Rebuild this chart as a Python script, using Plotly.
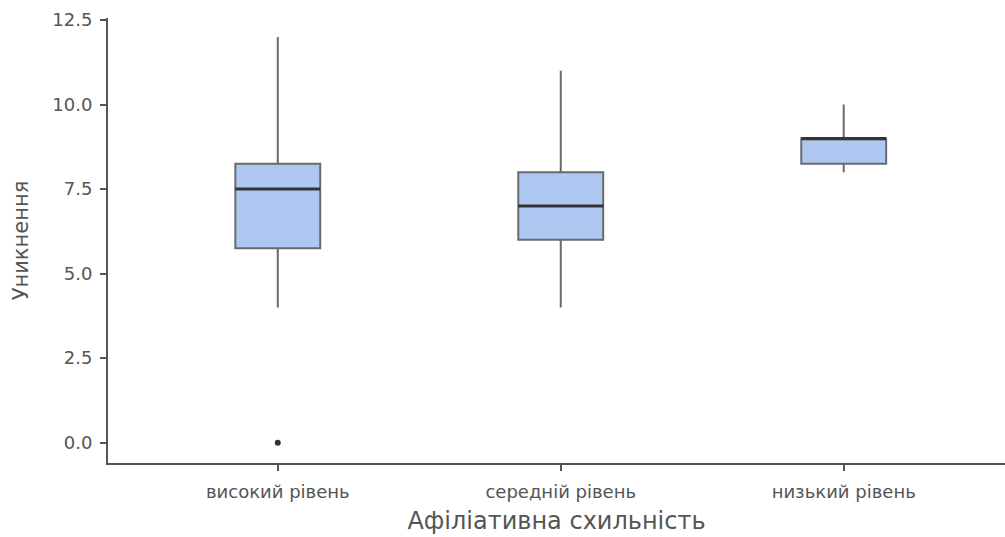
import plotly.graph_objects as go

# Group labels and summary statistics of the "Уникнення" score
groups = ["високий рівень", "середній рівень", "низький рівень"]
lower_whisker = [4.0, 4.0, 8.0]
q1 = [5.75, 6.0, 8.25]
median = [7.5, 7.0, 9.0]
q3 = [8.25, 8.0, 9.0]
upper_whisker = [12.0, 11.0, 10.0]
outlier_group = [0]
outlier_value = [0.0]

y_ticks = [0.0, 2.5, 5.0, 7.5, 10.0, 12.5]

positions = list(range(len(groups)))
box_width = 0.3

fig = go.Figure()

fig.add_trace(go.Box(
    x=positions,
    q1=q1,
    median=median,
    q3=q3,
    lowerfence=lower_whisker,
    upperfence=upper_whisker,
    width=box_width,
    whiskerwidth=0,
    fillcolor="#aec9f1",
    line=dict(color="#6a6a6a", width=2),
    boxpoints=False,
    hoverinfo="skip",
    showlegend=False,
))

# thicker median bars on top of each box
for i, m in zip(positions, median):
    fig.add_trace(go.Scatter(
        x=[i - box_width / 2, i + box_width / 2],
        y=[m, m],
        mode="lines",
        line=dict(color="#333333", width=3),
        hoverinfo="skip",
        showlegend=False,
    ))

# outlying observation
fig.add_trace(go.Scatter(
    x=[positions[g] for g in outlier_group],
    y=outlier_value,
    mode="markers",
    marker=dict(color="#333333", size=6),
    hoverinfo="skip",
    showlegend=False,
))

font_family = "DejaVu Sans, Liberation Sans, sans-serif"
text_color = "#555555"

fig.update_layout(
    width=1005,
    height=537,
    margin=dict(l=108, r=0, t=18, b=74),
    paper_bgcolor="white",
    plot_bgcolor="white",
    font=dict(family=font_family, color=text_color, size=18),
    xaxis=dict(
        range=[-0.6, 2.57],
        tickmode="array",
        tickvals=positions,
        ticktext=groups,
        showgrid=False,
        zeroline=False,
        showline=True,
        linecolor="#555555",
        linewidth=2,
        ticks="outside",
        ticklen=6,
        tickwidth=2,
        tickcolor="#555555",
        ticklabelstandoff=5,
        tickfont=dict(size=18, color=text_color),
        title=dict(text="Афіліативна схильність", font=dict(size=24, color=text_color), standoff=12),
    ),
    yaxis=dict(
        range=[-0.6, 12.56],
        tickmode="array",
        tickvals=y_ticks,
        ticktext=[f"{v:.1f}" for v in y_ticks],
        showgrid=False,
        zeroline=False,
        showline=True,
        linecolor="#555555",
        linewidth=2,
        ticks="outside",
        ticklen=6,
        tickwidth=2,
        tickcolor="#555555",
        ticklabelstandoff=4,
        tickfont=dict(size=18, color=text_color),
        title=dict(text="Уникнення", font=dict(size=21, color=text_color), standoff=18),
    ),
)

fig.write_html("out.html")
